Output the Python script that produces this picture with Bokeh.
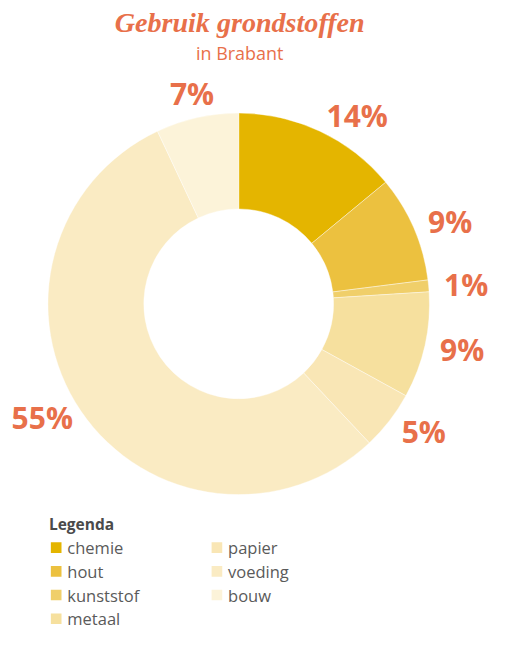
import math
from bokeh.plotting import figure
from bokeh.models import Range1d, ColumnDataSource
from bokeh.core.properties import value
from bokeh.embed import file_html
from bokeh.resources import INLINE

# ---- data ----
categories = ["chemie", "hout", "kunststof", "metaal", "papier", "voeding", "bouw"]
shares = [14, 9, 1, 9, 5, 55, 7]
colors = ["#E4B500", "#ECC13F", "#F0CF6A", "#F6E09E", "#F9E6B5", "#FAEBC3", "#FCF3D9"]
title_text = "Gebruik grondstoffen"
subtitle_text = "in Brabant"
legend_title = "Legenda"

ORANGE = "#E8704A"
W, H = 489, 632
REF_W, REF_H = 505, 648
S = W / REF_W  # font scale


def Y(yp):
    return REF_H - yp


def fs(px):
    return f"{px * S:.1f}px"


p = figure(width=W, height=H, output_backend="svg", toolbar_location=None,
           x_range=Range1d(0, REF_W), y_range=Range1d(0, REF_H),
           x_axis_type=None, y_axis_type=None, min_border=0)
p.grid.visible = False
p.outline_line_color = None
p.background_fill_color = "white"
p.border_fill_color = "white"

cx, cy = 246, Y(311)
r_in, r_out = 98, 197

total = float(sum(shares))
starts, ends, mids = [], [], []
acc = 0.0
for s in shares:
    f0 = acc / total
    acc += s
    f1 = acc / total
    starts.append(math.pi / 2 - 2 * math.pi * f0)
    ends.append(math.pi / 2 - 2 * math.pi * f1)
    mids.append((f0 + f1) / 2)

src = ColumnDataSource(dict(start=starts, end=ends, color=colors))
p.annular_wedge(x=cx, y=cy, inner_radius=r_in, outer_radius=r_out,
                start_angle="start", end_angle="end", direction="clock",
                fill_color="color", line_color="white", line_width=0.5,
                line_alpha=0.8, source=src)

# labels
r_lab = 213
for s, m in zip(shares, mids):
    a = 2 * math.pi * m
    sx, cz = math.sin(a), math.cos(a)
    if sx > 0.3:
        align, rr = "left", r_lab
    elif sx < -0.3:
        align, rr = "right", r_lab - 6
    else:
        align, rr = "center", r_lab + 8
    lx = cx + rr * sx
    ly = cy + rr * cz
    p.text(x=[lx], y=[ly], text=[f"{s}%"], text_align=align, text_baseline="middle",
           text_font=value("Open Sans"), text_font_style="bold",
           text_font_size=fs(31), text_color=ORANGE)

# title
p.text(x=[247], y=[Y(23)], text=[title_text], text_align="center",
       text_baseline="middle", text_font=value("Liberation Serif"),
       text_font_style="bold italic", text_font_size=fs(29), text_color=ORANGE)
p.text(x=[247], y=[Y(54)], text=[subtitle_text], text_align="center",
       text_baseline="middle", text_font=value("Open Sans"),
       text_font_size=fs(18.5), text_color=ORANGE)

# legend
p.text(x=[50], y=[Y(537)], text=[legend_title], text_align="left",
       text_baseline="middle", text_font=value("Open Sans"),
       text_font_style="bold", text_font_size=fs(16), text_color="#4A4A4A")
row0, step = 561, 24.3
col_x = [57.5, 223.5]
for i, (cat, col) in enumerate(zip(categories, colors)):
    c = 0 if i < 4 else 1
    r = i if i < 4 else i - 4
    yy = Y(row0 + r * step)
    p.scatter(x=[col_x[c]], y=[yy], marker="square", size=11 * S,
              fill_color=col, line_color=None)
    p.text(x=[col_x[c] + 11.5], y=[yy], text=[cat], text_align="left",
           text_baseline="middle", text_font=value("Open Sans"),
           text_font_size=fs(17), text_color="#5A5A5A")

open("out.html", "w").write(file_html(p, INLINE))
